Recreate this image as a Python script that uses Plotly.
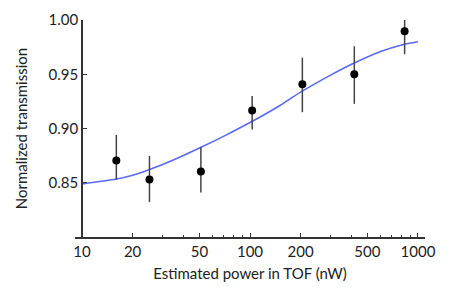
import plotly.graph_objects as go

# Measured points
power_nw = [16, 25.2, 51, 103, 205, 418, 833]
transmission = [0.8705, 0.853, 0.8604, 0.9165, 0.9408, 0.950, 0.9896]
err_plus = [0.0235, 0.0218, 0.0226, 0.0135, 0.0245, 0.0258, 0.0204]
err_minus = [0.0175, 0.0208, 0.0194, 0.0175, 0.0258, 0.0273, 0.0212]

# Fit curve
fit_x = [10, 16, 20, 25, 35, 50, 70, 100, 150, 200, 300, 400, 600, 800, 1000]
fit_y = [0.849, 0.8534, 0.857, 0.862, 0.871, 0.882, 0.893, 0.9055, 0.921, 0.9335, 0.949, 0.959, 0.971, 0.9770, 0.980]

major_ticks = [10, 20, 50, 100, 200, 500, 1000]
major_text = ["10", "20", "50", "100", "200", "500", "1000"]
minor_ticks = [30, 40, 60, 70, 80, 90, 300, 400, 600, 700, 800, 900]
y_ticks = [0.85, 0.90, 0.95, 1.00]
y_text = ["0.85", "0.90", "0.95", "1.00"]

FONT = "Lato"
TXT = "#222222"
AX = "#333333"

fig = go.Figure()
fig.add_trace(go.Scatter(
    x=fit_x, y=fit_y, mode="lines", line=dict(color="rgb(70,90,250)", width=1.6, shape="spline", smoothing=0.8),
    opacity=0.9, showlegend=False, hoverinfo="skip", cliponaxis=False))
fig.add_trace(go.Scatter(
    x=power_nw, y=transmission, mode="markers",
    marker=dict(color="black", size=8),
    error_y=dict(type="data", symmetric=False, array=err_plus, arrayminus=err_minus,
                 color="#444444", thickness=1.5, width=0),
    showlegend=False, cliponaxis=False))

fig.update_layout(
    template="none",
    width=450, height=295,
    margin=dict(l=67, r=33, t=12, b=66, autoexpand=False),
    paper_bgcolor="white", plot_bgcolor="white",
    font=dict(family=FONT, size=15, color=TXT),
    xaxis=dict(
        type="log", range=[0.958, 3.042], automargin=False,
        showgrid=False, zeroline=False,
        showline=True, linecolor=AX, linewidth=1.5,
        ticks="inside", ticklen=4, tickwidth=1.2, tickcolor=AX,
        tickvals=major_ticks, ticktext=major_text,
        minor=dict(tickvals=minor_ticks, ticks="inside", ticklen=2.5, tickwidth=1, tickcolor=AX, showgrid=False),
        title=dict(text="Estimated power in TOF (nW)", standoff=10, font=dict(size=15)),
        tickfont=dict(size=15),
    ),
    yaxis=dict(
        range=[0.8, 1.0], anchor="free", position=0.02, automargin=False,
        showgrid=False, zeroline=False,
        showline=True, linecolor=AX, linewidth=1.5,
        ticks="inside", ticklen=4, tickwidth=1.2, tickcolor=AX,
        tickvals=y_ticks, ticktext=y_text,
        title=dict(text="Normalized transmission", standoff=16, font=dict(size=15)),
        tickfont=dict(size=15),
    ),
)

fig.write_html("out.html")
